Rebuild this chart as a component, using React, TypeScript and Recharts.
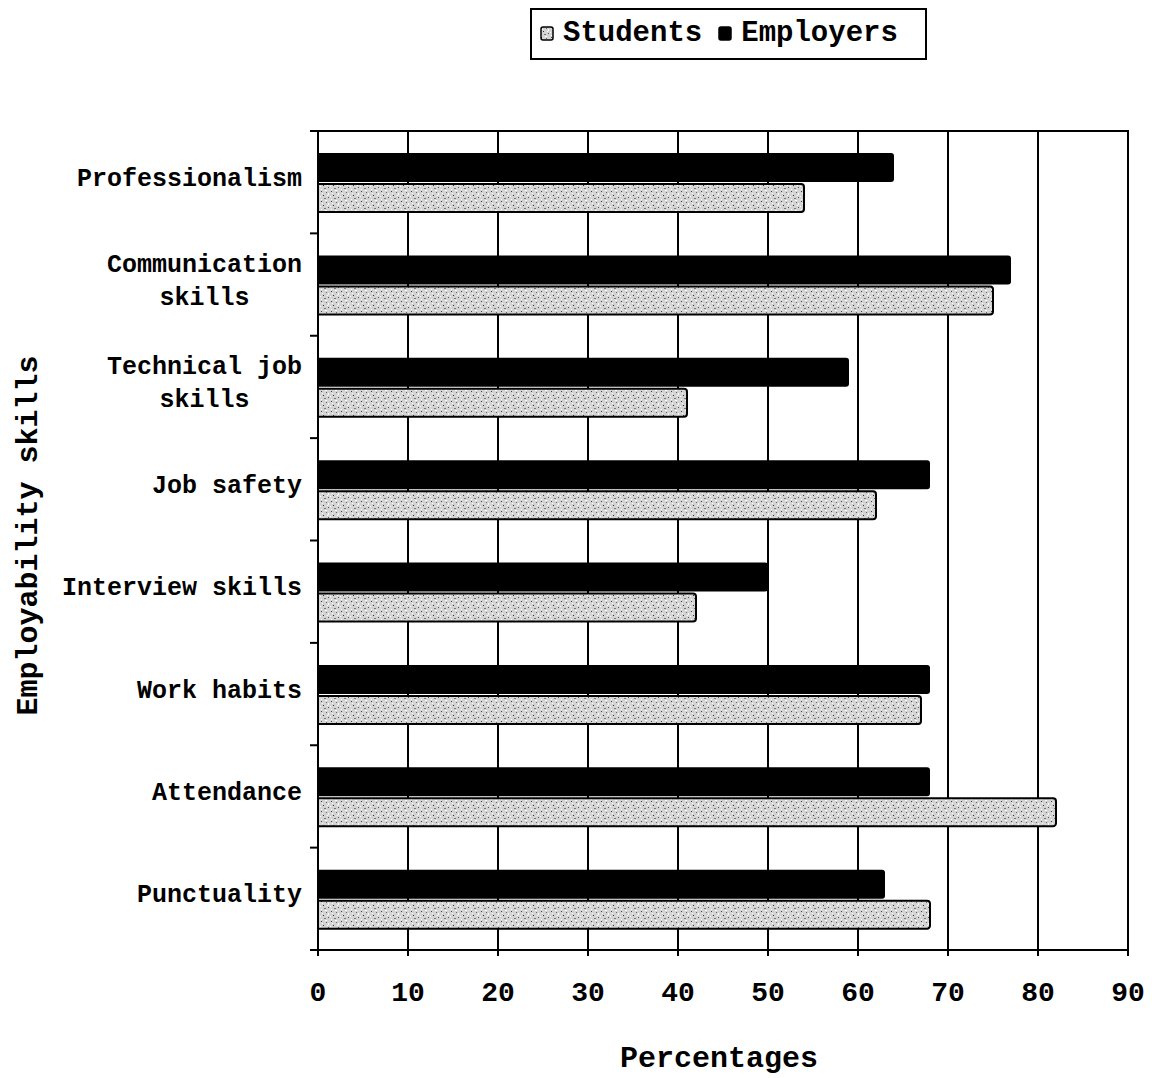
import React from 'react';
import {
  BarChart,
  Bar,
  XAxis,
  YAxis,
  CartesianGrid,
  Legend,
  ReferenceArea,
  Label,
} from 'recharts';

// ---- data ----
const categories = [
  'Professionalism',
  'Communication skills',
  'Technical job skills',
  'Job safety',
  'Interview skills',
  'Work habits',
  'Attendance',
  'Punctuality',
];
const tickLabels = [
  ['Professionalism'],
  ['Communication', 'skills'],
  ['Technical job', 'skills'],
  ['Job safety'],
  ['Interview skills'],
  ['Work habits'],
  ['Attendance'],
  ['Punctuality'],
];
const studentsValues = [54, 75, 41, 62, 42, 67, 82, 68];
const employersValues = [64, 77, 59, 68, 50, 68, 68, 63];
const xTicks = [0, 10, 20, 30, 40, 50, 60, 70, 80, 90];
const seriesNames = { students: 'Students', employers: 'Employers' };
const legendOrder = ['students', 'employers'];

const data = categories.map((skill, i) => ({
  skill,
  students: studentsValues[i],
  employers: employersValues[i],
}));

// ---- layout ----
const WIDTH = 1152;
const HEIGHT = 1078;
const MARGIN = { top: 131, right: 24, left: 0, bottom: 0 };
const YAXIS_W = 318;
const XAXIS_H = 128;
const PLOT_H = HEIGHT - MARGIN.top - MARGIN.bottom - XAXIS_H;
const BAND = PLOT_H / categories.length;
const FONT = '"Liberation Mono", "Courier New", monospace';

const CategoryTick = (props: any) => {
  const { x, y, index } = props;
  const lines = tickLabels[index] || [String(props.payload?.value ?? '')];
  const fs = 25;
  const charW = fs * 0.6;
  const maxW = Math.max(...lines.map((l) => l.length)) * charW;
  const right = x - 16;
  const cx = right - maxW / 2;
  const lh = 33;
  const startY = y - ((lines.length - 1) * lh) / 2 - 3;
  return (
    <g>
      <line x1={x - 8} x2={x} y1={y - BAND / 2} y2={y - BAND / 2} stroke="#000" strokeWidth={2} />
      {index === categories.length - 1 && (
        <line x1={x - 8} x2={x} y1={y + BAND / 2} y2={y + BAND / 2} stroke="#000" strokeWidth={2} />
      )}
      {lines.map((l, i) => (
        <text
          key={i}
          x={lines.length > 1 ? cx : right}
          y={startY + i * lh}
          textAnchor={lines.length > 1 ? 'middle' : 'end'}
          dominantBaseline="central"
          fontFamily={FONT}
          fontWeight="bold"
          fontSize={fs}
          fill="#000"
        >
          {l}
        </text>
      ))}
    </g>
  );
};

const ValueTick = (props: any) => {
  const { x, y, payload } = props;
  return (
    <g>
      <line x1={x} x2={x} y1={y - 4} y2={y + 6} stroke="#000" strokeWidth={2} />
      <text
        x={x}
        y={y + 51}
        textAnchor="middle"
        fontFamily={FONT}
        fontWeight="bold"
        fontSize={28}
        fill="#000"
      >
        {payload.value}
      </text>
    </g>
  );
};

const LegendContent = () => (
  <div
    style={{
      boxSizing: 'border-box',
      width: 397,
      height: 52,
      border: '2px solid #000',
      display: 'flex',
      alignItems: 'flex-start',
      paddingTop: 9,
      paddingLeft: 8,
      fontFamily: FONT,
      fontWeight: 'bold',
      fontSize: 29,
      lineHeight: '29px',
      color: '#000',
      background: '#fff',
    }}
  >
    {legendOrder.map((key, i) => (
      <div key={key} style={{ display: 'flex', alignItems: 'center', marginLeft: i === 0 ? 0 : 16 }}>
        <svg width={14} height={15} style={{ marginRight: 9 }}>
          <rect
            x={1}
            y={1}
            width={12}
            height={13}
            rx={2}
            fill={key === 'students' ? 'url(#stipple)' : '#000'}
            stroke="#000"
            strokeWidth={1.5}
          />
        </svg>
        <span>{(seriesNames as any)[key]}</span>
      </div>
    ))}
  </div>
);

export default function App() {
  return (
    <div style={{ position: 'absolute', left: 0, top: 0, background: '#fff' }}>
      <BarChart
        width={WIDTH}
        height={HEIGHT}
        data={data}
        layout="vertical"
        margin={MARGIN}
        barGap={2}
      >
        <defs>
          <pattern id="stipple" patternUnits="userSpaceOnUse" width="10" height="10">
            <rect width="10" height="10" fill="#d4d4d4" />
            <rect x="1" y="1" width="1" height="1" fill="#444" />
            <rect x="6" y="2" width="1" height="1" fill="#666" />
            <rect x="3" y="5" width="1" height="1" fill="#333" />
            <rect x="8" y="7" width="1" height="1" fill="#555" />
            <rect x="4" y="8" width="2" height="1" fill="#777" />
            <rect x="0" y="6" width="1" height="1" fill="#fff" />
            <rect x="5" y="0" width="2" height="1" fill="#fff" />
            <rect x="8" y="3" width="1" height="2" fill="#fff" />
            <rect x="2" y="3" width="1" height="1" fill="#fff" />
            <rect x="7" y="5" width="1" height="1" fill="#fff" />
            <rect x="1" y="9" width="1" height="1" fill="#fff" />
          </pattern>
        </defs>
        <CartesianGrid horizontal={false} vertical stroke="#000" strokeWidth={2} />
        <ReferenceArea x1={0} x2={90} fill="none" stroke="#000" strokeWidth={2} />
        <XAxis
          type="number"
          domain={[0, 90]}
          ticks={xTicks}
          height={XAXIS_H}
          axisLine={{ stroke: '#000', strokeWidth: 2 }}
          tickLine={false}
          tickSize={0}
          tickMargin={0}
          tick={<ValueTick />}
          interval={0}
        >
          <Label
            content={(p: any) => {
              const vb = p.viewBox || {};
              return (
                <text
                  x={vb.x + vb.width / 2 - 4}
                  y={vb.y + 117}
                  textAnchor="middle"
                  fontFamily={FONT}
                  fontWeight="bold"
                  fontSize={30}
                  fill="#000"
                >
                  Percentages
                </text>
              );
            }}
          />
        </XAxis>
        <YAxis
          type="category"
          dataKey="skill"
          width={YAXIS_W}
          axisLine={{ stroke: '#000', strokeWidth: 2 }}
          tickLine={false}
          tickSize={0}
          tickMargin={0}
          tick={<CategoryTick />}
          interval={0}
        >
          <Label
            content={(p: any) => {
              const vb = p.viewBox || {};
              const cy = vb.y + vb.height / 2 - 5;
              return (
                <text
                  x={29}
                  y={cy}
                  transform={`rotate(-90, 29, ${cy})`}
                  textAnchor="middle"
                  dominantBaseline="central"
                  fontFamily={FONT}
                  fontWeight="bold"
                  fontSize={30}
                  fill="#000"
                >
                  Employability skills
                </text>
              );
            }}
          />
        </YAxis>
        <Legend
          layout="horizontal"
          verticalAlign="middle"
          align="center"
          wrapperStyle={{ top: 8, left: 530, width: 'auto', height: 'auto' }}
          content={<LegendContent />}
        />
        <Bar
          dataKey="employers"
          name={seriesNames.employers}
          fill="#000"
          barSize={29}
          radius={[0, 3, 3, 0]}
          isAnimationActive={false}
        />
        <Bar
          dataKey="students"
          name={seriesNames.students}
          fill="url(#stipple)"
          stroke="#000"
          strokeWidth={2}
          barSize={28}
          radius={[0, 3, 3, 0]}
          isAnimationActive={false}
        />
      </BarChart>
    </div>
  );
}
